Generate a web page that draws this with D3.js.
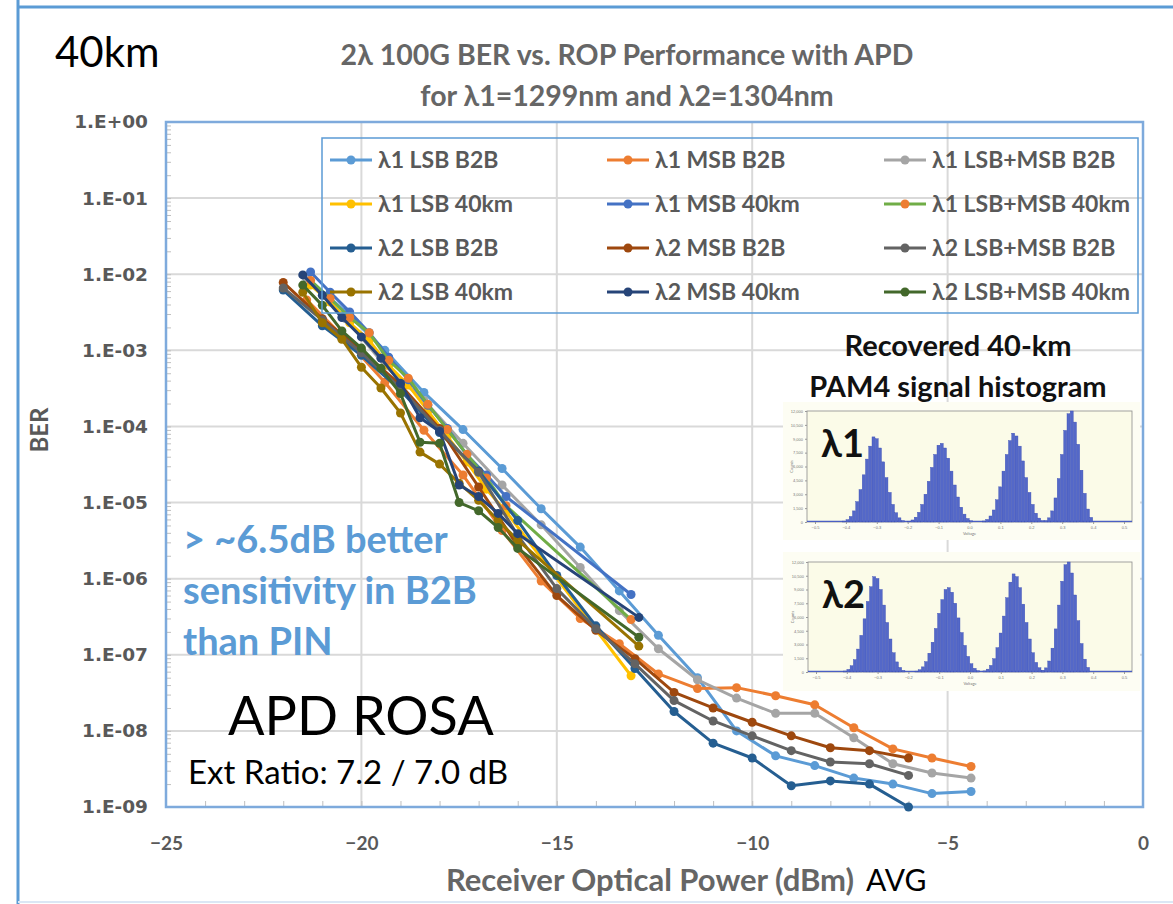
<!DOCTYPE html>
<html lang="en">
<head>
<meta charset="UTF-8">
<title>2λ 100G BER vs. ROP Performance with APD</title>
<script src="https://d3js.org/d3.v7.min.js"></script>
<style>
  body { margin: 0; background: #fff; }
  svg { display: block; font-family: Lato, "Open Sans", sans-serif; }
</style>
</head>
<body>
<div id="chart"></div>
<script>
// legend order, row by row (3 columns)
const seriesNames = [
  "λ1 LSB B2B", "λ1 MSB B2B", "λ1 LSB+MSB B2B",
  "λ1 LSB 40km", "λ1 MSB 40km", "λ1 LSB+MSB 40km",
  "λ2 LSB B2B", "λ2 MSB B2B", "λ2 LSB+MSB B2B",
  "λ2 LSB 40km", "λ2 MSB 40km", "λ2 LSB+MSB 40km"
];
const lineColors = ["#5B9BD5", "#ED7D31", "#A5A5A5", "#FFC000", "#4472C4", "#70AD47",
                    "#255E91", "#9E480E", "#636363", "#997300", "#264478", "#43682B"];
const markerColors = ["#5B9BD5", "#ED7D31", "#A5A5A5", "#FFC000", "#4472C4", "#ED7D31",
                      "#255E91", "#9E480E", "#636363", "#997300", "#264478", "#43682B"];

// received optical power (dBm)
const xL1B2B = [-21.4, -20.4, -19.4, -18.4, -17.4, -16.4, -15.4, -14.4, -13.4, -12.4, -11.4, -10.4, -9.4, -8.4, -7.4, -6.4, -5.4, -4.4];
const xL2B2B = [-22, -21, -20, -19, -18, -17, -16, -15, -14, -13, -12, -11, -10, -9, -8, -7, -6];
const xL1Km = [-21.3, -20.8, -20.3, -19.8, -19.3, -18.8, -18.3, -17.8, -17.3, -16.8, -16.3, -13.1];
const xL2Km = [-21.5, -21, -20.5, -20, -19.5, -19, -18.5, -18, -17.5, -17, -16.5, -16, -12.9];

// BER per series
const berL1LsbB2B = [9.0e-3, 3.2e-3, 1.0e-3, 2.8e-4, 9.1e-5, 2.8e-5, 8.3e-6, 2.6e-6, 6.9e-7, 1.8e-7, 5.0e-8, 1.0e-8, 4.7e-9, 3.5e-9, 2.4e-9, 2.0e-9, 1.5e-9, 1.6e-9];
const berL1MsbB2B = [4.6e-3, 1.4e-3, 3.8e-4, 8.9e-5, 2.3e-5, 4.3e-6, 9.3e-7, 3.0e-7, 1.4e-7, 5.6e-8, 3.6e-8, 3.7e-8, 2.9e-8, 2.2e-8, 1.1e-8, 5.8e-9, 4.4e-9, 3.4e-9];
const berL1SumB2B = [9.1e-3, 2.6e-3, 6.3e-4, 2.2e-4, 6.0e-5, 1.7e-5, 5.1e-6, 1.4e-6, 3.8e-7, 1.2e-7, 4.7e-8, 2.7e-8, 1.7e-8, 1.7e-8, 8.1e-9, 3.7e-9, 2.8e-9, 2.4e-9];
const berL1LsbKm = [7.2e-3, 4.3e-3, 2.3e-3, 1.35e-3, 6.3e-4, 3.5e-4, 1.6e-4, 7.4e-5, 3.4e-5, 1.5e-5, 7.6e-6, 5.3e-8];
const berL1MsbKm = [1.07e-2, 5.8e-3, 3.2e-3, 1.7e-3, 8.1e-4, 4.1e-4, 1.9e-4, 9.4e-5, 4.2e-5, 2.3e-5, 1.2e-5, 6.2e-7];
const berL1SumKm = [8.3e-3, 4.8e-3, 2.7e-3, 1.7e-3, 7.4e-4, 4.3e-4, 1.95e-4, 9.1e-5, 4.3e-5, 2.1e-5, 9.1e-6, 2.9e-7];
const berL2LsbB2B = [6.2e-3, 2.1e-3, 8.6e-4, 3.0e-4, 8.3e-5, 2.6e-5, 5.8e-6, 1.1e-6, 2.4e-7, 6.6e-8, 1.8e-8, 6.9e-9, 4.4e-9, 1.9e-9, 2.2e-9, 2.0e-9, 1.0e-9];
const berL2MsbB2B = [7.8e-3, 2.6e-3, 1.0e-3, 3.5e-4, 9.4e-5, 1.6e-5, 2.7e-6, 6.0e-7, 2.1e-7, 8.9e-8, 3.2e-8, 2.0e-8, 1.3e-8, 8.6e-9, 6.0e-9, 5.5e-9, 4.4e-9];
const berL2SumB2B = [6.6e-3, 2.5e-3, 9.3e-4, 3.2e-4, 8.9e-5, 2.5e-5, 3.7e-6, 7.4e-7, 2.2e-7, 7.6e-8, 2.5e-8, 1.35e-8, 8.6e-9, 5.5e-9, 3.9e-9, 3.7e-9, 2.6e-9];
const berL2LsbKm = [5.8e-3, 2.3e-3, 1.4e-3, 6.0e-4, 3.2e-4, 1.5e-4, 4.6e-5, 3.2e-5, 1.8e-5, 1.07e-5, 5.8e-6, 3.2e-6, 1.3e-7];
const berL2MsbKm = [9.8e-3, 5.3e-3, 2.7e-3, 1.5e-3, 7.9e-4, 3.7e-4, 1.3e-4, 8.6e-5, 1.7e-5, 1.2e-5, 7.2e-6, 3.9e-6, 3.1e-7];
const berL2SumKm = [7.2e-3, 3.9e-3, 1.8e-3, 1.07e-3, 5.8e-4, 2.7e-4, 6.2e-5, 6.0e-5, 1.0e-5, 7.8e-6, 4.7e-6, 2.5e-6, 1.7e-7];

const seriesX = [xL1B2B, xL1B2B, xL1B2B, xL1Km, xL1Km, xL1Km, xL2B2B, xL2B2B, xL2B2B, xL2Km, xL2Km, xL2Km];
const seriesBer = [berL1LsbB2B, berL1MsbB2B, berL1SumB2B, berL1LsbKm, berL1MsbKm, berL1SumKm,
                   berL2LsbB2B, berL2MsbB2B, berL2SumB2B, berL2LsbKm, berL2MsbKm, berL2SumKm];

const yDecades = [1, 1e-1, 1e-2, 1e-3, 1e-4, 1e-5, 1e-6, 1e-7, 1e-8, 1e-9];
const xTicks = [-25, -20, -15, -10, -5, 0];

// recovered PAM4 histograms (counts per bin, bins 0..99)
const histBins = 100;
const hist1Starts = [11, 31, 54, 73];
const hist1Peak1 = [100, 250, 600, 1200, 2200, 3500, 5100, 6800, 8200, 9200, 9000, 8000, 6500, 4800, 3200, 1900, 1000, 450, 150];
const hist1Peak2 = [90, 220, 520, 1050, 1900, 3000, 4400, 5900, 7300, 8300, 8500, 8000, 6900, 5500, 4000, 2700, 1600, 850, 380, 130];
const hist1Peak3 = [110, 280, 650, 1300, 2400, 3800, 5500, 7300, 8800, 9600, 9300, 8200, 6600, 4800, 3200, 1900, 950, 420, 140];
const hist1Peak4 = [150, 450, 1200, 2600, 4700, 7300, 9900, 11700, 12000, 10800, 8400, 5600, 3100, 1400, 500];
const hist2Starts = [11, 33, 54, 72];
const hist2Peak1 = [110, 280, 680, 1350, 2500, 4000, 5800, 7700, 9300, 10400, 10200, 9000, 7300, 5400, 3600, 2100, 1100, 500, 170];
const hist2Peak2 = [100, 240, 560, 1130, 2050, 3250, 4750, 6400, 7900, 9000, 9200, 8700, 7500, 5900, 4300, 2900, 1700, 900, 400, 140];
const hist2Peak3 = [120, 310, 720, 1450, 2650, 4250, 6100, 8100, 9800, 10700, 10400, 9200, 7400, 5400, 3600, 2100, 1050, 460, 150];
const hist2Peak4 = [150, 450, 1200, 2600, 4700, 7300, 9900, 11700, 12000, 10800, 8400, 5600, 3100, 1400, 500];
const histYTicks = [0, 1500, 3000, 4500, 6000, 7500, 9000, 10500, 12000];
const histXTicks = [-0.5, -0.4, -0.3, -0.2, -0.1, 0, 0.1, 0.2, 0.3, 0.4, 0.5];

const W = 1173, H = 904;
const plot = { left: 166, right: 1143, top: 122, bottom: 807 };

const svg = d3.select("#chart").append("svg")
  .attr("width", W).attr("height", H)
  .attr("viewBox", [0, 0, W, H]);

const x = d3.scaleLinear().domain([-25, 0]).range([plot.left, plot.right]);
const y = d3.scaleLog().domain([1, 1e-9]).range([plot.top, plot.bottom]);

// outer frame
svg.append("line").attr("x1", 18).attr("x2", 18).attr("y1", 0).attr("y2", H)
  .attr("stroke", "#5B9BD5").attr("stroke-width", 3);
svg.append("line").attr("x1", 18).attr("x2", W).attr("y1", 7).attr("y2", 7)
  .attr("stroke", "#5B9BD5").attr("stroke-width", 3);
svg.append("line").attr("x1", 18).attr("x2", W).attr("y1", 902).attr("y2", 902)
  .attr("stroke", "#dbe7f5").attr("stroke-width", 2);

// gridlines
svg.append("g").selectAll("line").data(yDecades.slice(1, -1)).join("line")
  .attr("x1", plot.left).attr("x2", plot.right)
  .attr("y1", d => y(d)).attr("y2", d => y(d))
  .attr("stroke", "#d9d9d9").attr("stroke-width", 2);
svg.append("g").selectAll("line").data(xTicks.slice(1, -1)).join("line")
  .attr("y1", plot.top).attr("y2", plot.bottom)
  .attr("x1", d => x(d)).attr("x2", d => x(d))
  .attr("stroke", "#d9d9d9").attr("stroke-width", 2);

// minor ticks (inside)
const yMinor = [];
for (let e = 0; e < 9; e++) for (let m = 2; m <= 9; m++) yMinor.push(m * Math.pow(10, -e - 1));
svg.append("g").attr("transform", `translate(${plot.left},0)`)
  .call(d3.axisRight(y).tickValues(yMinor.concat(yDecades)).tickSize(5).tickFormat(""))
  .call(g => g.select(".domain").remove())
  .call(g => g.selectAll("line").attr("stroke", "#bfbfbf"));
svg.append("g").attr("transform", `translate(0,${plot.bottom})`)
  .call(d3.axisTop(x).ticks(25).tickSize(6).tickFormat(""))
  .call(g => g.select(".domain").remove())
  .call(g => g.selectAll("line").attr("stroke", "#bfbfbf"));

// plot border
svg.append("rect")
  .attr("x", plot.left).attr("y", plot.top)
  .attr("width", plot.right - plot.left).attr("height", plot.bottom - plot.top)
  .attr("fill", "none").attr("stroke", "#7EAADC").attr("stroke-width", 2.5);

// y axis labels
const fmtBer = d => {
  const e = Math.round(Math.log10(d));
  return "1.E" + (e >= 0 ? "+" : "-") + String(Math.abs(e)).padStart(2, "0");
};
svg.append("g").attr("transform", `translate(${plot.left},0)`)
  .call(d3.axisLeft(y).tickValues(yDecades).tickSize(0).tickPadding(18).tickFormat(fmtBer))
  .call(g => g.select(".domain").remove())
  .call(g => g.selectAll("text")
    .attr("font-family", "'DejaVu Sans', sans-serif")
    .attr("font-weight", "bold").attr("font-size", 18.5).attr("fill", "#595959"));

// x axis labels
svg.append("g").attr("transform", `translate(0,${plot.bottom})`)
  .call(d3.axisBottom(x).tickValues(xTicks).tickSize(0).tickPadding(30).tickFormat(d3.format("d")))
  .call(g => g.select(".domain").remove())
  .call(g => g.selectAll("text")
    .attr("font-family", "Lato, sans-serif")
    .attr("font-weight", "bold").attr("font-size", 19).attr("fill", "#595959"));

// series
const line = d3.line().x(d => x(d[0])).y(d => y(d[1]));
const series = seriesNames.map((name, i) => ({
  name, line: lineColors[i], marker: markerColors[i],
  points: seriesX[i].map((v, j) => [v, seriesBer[i][j]])
}));

const gSeries = svg.append("g");
series.forEach(s => {
  const g = gSeries.append("g");
  g.append("path").attr("d", line(s.points))
    .attr("fill", "none").attr("stroke", s.line).attr("stroke-width", 3)
    .attr("stroke-linejoin", "round");
  g.selectAll("circle").data(s.points).join("circle")
    .attr("cx", d => x(d[0])).attr("cy", d => y(d[1])).attr("r", 4.5)
    .attr("fill", s.marker);
});

// legend (transparent box)
const legend = svg.append("g");
legend.append("rect").attr("x", 322).attr("y", 138).attr("width", 816).attr("height", 175)
  .attr("fill", "none").attr("stroke", "#5B9BD5").attr("stroke-width", 1.5);
const colX = [330, 607, 884];
const rowY = [160, 204, 248, 292];
series.forEach((s, i) => {
  const cx = colX[i % 3], cy = rowY[Math.floor(i / 3)];
  legend.append("line").attr("x1", cx).attr("x2", cx + 42).attr("y1", cy).attr("y2", cy)
    .attr("stroke", s.line).attr("stroke-width", 3);
  legend.append("circle").attr("cx", cx + 21).attr("cy", cy).attr("r", 4.5).attr("fill", s.marker);
  legend.append("text").attr("x", cx + 48).attr("y", cy + 8)
    .attr("font-size", 23).attr("font-weight", "bold").attr("fill", "#595959")
    .text(s.name);
});

// titles and texts
svg.append("text").attr("x", 55).attr("y", 67).attr("font-size", 42).attr("fill", "#000").text("40km");
svg.append("text").attr("x", 627).attr("y", 65).attr("text-anchor", "middle")
  .attr("font-size", 28.5).attr("font-weight", "bold").attr("fill", "#666")
  .text("2λ 100G BER vs. ROP Performance with APD");
svg.append("text").attr("x", 627).attr("y", 106).attr("text-anchor", "middle")
  .attr("font-size", 28.5).attr("font-weight", "bold").attr("fill", "#666")
  .text("for λ1=1299nm and λ2=1304nm");
svg.append("text").attr("transform", "translate(48,430) rotate(-90)").attr("text-anchor", "middle")
  .attr("font-size", 24).attr("font-weight", "bold").attr("fill", "#595959").text("BER");
svg.append("text").attr("x", 650).attr("y", 891).attr("text-anchor", "middle")
  .attr("font-size", 31).attr("font-weight", "bold").attr("fill", "#666")
  .text("Receiver Optical Power (dBm)");
svg.append("text").attr("x", 866).attr("y", 891).attr("font-size", 30).attr("fill", "#000").text("AVG");

const note = ["> ~6.5dB better", "sensitivity in B2B", "than PIN"];
svg.append("g").selectAll("text").data(note).join("text")
  .attr("x", 183).attr("y", (d, i) => 553 + i * 51)
  .attr("font-size", 38).attr("font-weight", "bold").attr("fill", "#5B9BD5").text(d => d);
svg.append("text").attr("x", 228).attr("y", 735).attr("font-size", 54).attr("fill", "#000").text("APD ROSA");
svg.append("text").attr("x", 188).attr("y", 784).attr("font-size", 33).attr("fill", "#000").text("Ext Ratio: 7.2 / 7.0 dB");

// inset: recovered histograms
svg.append("text").attr("x", 958).attr("y", 356).attr("text-anchor", "middle")
  .attr("font-size", 29).attr("font-weight", "bold").attr("fill", "#111").text("Recovered 40-km");
svg.append("text").attr("x", 958).attr("y", 397).attr("text-anchor", "middle")
  .attr("font-size", 29).attr("font-weight", "bold").attr("fill", "#111").text("PAM4 signal histogram");

function drawHist(box, area, starts, peaks, label) {
  const g = svg.append("g");
  g.append("rect").attr("x", box[0]).attr("y", box[1]).attr("width", box[2]).attr("height", box[3])
    .attr("fill", "#fdfdf3");
  g.append("rect").attr("x", area[0]).attr("y", area[1]).attr("width", area[2]).attr("height", area[3])
    .attr("fill", "#fbfbe8").attr("stroke", "#8c8c8c").attr("stroke-width", 0.8);
  const hx = d3.scaleLinear().domain([0, histBins]).range([area[0], area[0] + area[2]]);
  const hy = d3.scaleLinear().domain([0, 12000]).range([area[1] + area[3], area[1]]);
  const bars = [];
  peaks.forEach((p, k) => p.forEach((c, j) => bars.push([starts[k] + j, c])));
  g.append("line").attr("x1", area[0]).attr("x2", area[0] + area[2])
    .attr("y1", hy(0) - 0.6).attr("y2", hy(0) - 0.6).attr("stroke", "#4a5fc4").attr("stroke-width", 1.2);
  g.selectAll(".bar").data(bars).join("rect").attr("class", "bar")
    .attr("x", d => hx(d[0])).attr("width", hx(1) - hx(0) - 0.3)
    .attr("y", d => hy(d[1])).attr("height", d => hy(0) - hy(d[1]))
    .attr("fill", "#5468c8").attr("stroke", "#3a4db4").attr("stroke-width", 0.4);
  g.append("g").attr("transform", `translate(${area[0]},0)`)
    .call(d3.axisLeft(hy).tickValues(histYTicks).tickSize(2).tickPadding(2))
    .call(a => a.select(".domain").remove())
    .call(a => a.selectAll("text").attr("font-size", 4).attr("fill", "#777"))
    .call(a => a.selectAll("line").attr("stroke", "#999"));
  const hxv = d3.scaleLinear().domain([-0.5, 0.5]).range([area[0] + 8, area[0] + area[2] - 8]);
  g.append("g").attr("transform", `translate(0,${area[1] + area[3]})`)
    .call(d3.axisBottom(hxv).tickValues(histXTicks).tickSize(2).tickPadding(2))
    .call(a => a.select(".domain").remove())
    .call(a => a.selectAll("text").attr("font-size", 4).attr("fill", "#777"))
    .call(a => a.selectAll("line").attr("stroke", "#999"));
  g.append("text").attr("x", area[0] + area[2] / 2).attr("y", area[1] + area[3] + 13)
    .attr("text-anchor", "middle").attr("font-size", 4).attr("fill", "#777").text("Voltage");
  g.append("text").attr("transform", `translate(${area[0] - 14},${area[1] + area[3] / 2}) rotate(-90)`)
    .attr("text-anchor", "middle").attr("font-size", 4).attr("fill", "#777").text("Counts");
  g.append("text").attr("x", area[0] + 14).attr("y", area[1] + 46)
    .attr("font-size", 38).attr("font-weight", "bold").attr("fill", "#111").text(label);
}
drawHist([783, 402, 357, 138], [807, 411, 325, 111], hist1Starts,
  [hist1Peak1, hist1Peak2, hist1Peak3, hist1Peak4], "λ1");
drawHist([783, 552, 357, 139], [808, 562, 324, 110], hist2Starts,
  [hist2Peak1, hist2Peak2, hist2Peak3, hist2Peak4], "λ2");
</script>
</body>
</html>
